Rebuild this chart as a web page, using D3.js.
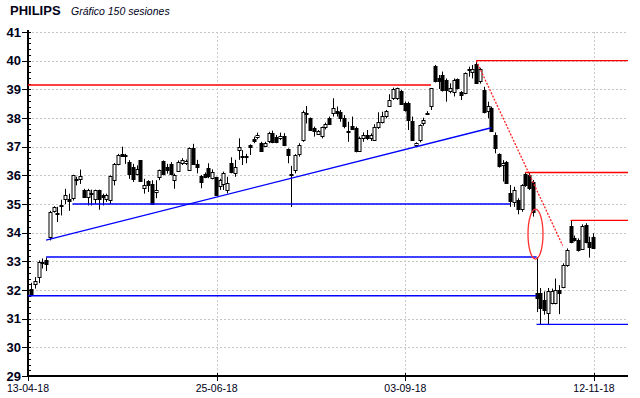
<!DOCTYPE html>
<html>
<head>
<meta charset="utf-8">
<script src="https://cdn.jsdelivr.net/npm/d3@7"></script>
<style>
  body { margin: 0; background: #fff; }
  svg { display: block; }
</style>
</head>
<body>
<div id="chart"></div>
<script>
// 150 sesiones, open / high / low / close
var opens = [32.05,32.2,32.45,32.95,33.05,33.85,34.76,34.68,34.95,35.15,35.18,35.19,35.85,35.88,35.5,35.25,35.4,35.2,35.48,35.3,
  35.15,35.15,35.83,36.38,36.73,36.68,36.47,36.3,36.06,36.52,35.56,35.8,35.7,35.4,35.92,36.5,36.29,36.4,35.83,36.17,
  36.45,36.42,36.19,36.97,36.4,35.98,36.05,36.24,35.92,35.93,35.63,35.7,35.47,36.42,36.07,36.86,36.66,36.62,37.06,37.27,
  37.35,37.14,37.03,37.17,37.49,37.33,37.29,37.37,36.91,35.98,36.19,36.74,37.23,38.16,37.99,37.64,37.44,37.35,37.67,37.99,
  38.16,38.24,38.2,37.99,37.56,37.73,37.66,36.85,37.31,37.4,37.31,37.23,37.7,37.87,38.08,38.43,38.71,38.69,38.94,38.51,
  38.51,37.9,37.04,37.23,37.81,38.15,38.4,39.81,39.38,39.5,39.33,38.92,38.92,39.36,38.92,38.86,39.68,39.6,39.9,39.29,
  38.98,38.24,38.34,37.41,36.73,36.34,36.48,35.37,35.08,35.14,34.83,36.04,36.01,35.78,31.9,31.9,31.66,31.2,31.55,31.54,
  32.0,32.12,32.87,34.24,33.8,33.74,33.45,34.27,33.69,33.86];
var highs = [32.25,32.45,33.03,33.1,33.13,34.76,34.92,34.9,35.15,35.53,35.36,36.02,35.95,36.2,35.53,35.53,35.5,35.5,35.5,35.36,
  35.36,36.0,36.43,36.75,37.0,36.75,36.53,36.4,36.35,36.52,35.88,35.83,35.83,35.83,36.2,36.52,36.4,36.46,36.06,36.52,
  36.6,36.55,36.97,37.1,36.54,36.01,36.1,36.42,36.21,35.95,35.88,36.13,35.95,36.63,36.54,37.29,36.88,36.75,37.08,37.35,
  37.49,37.17,37.17,37.52,37.56,37.41,37.49,37.47,36.94,36.33,36.74,37.12,38.26,38.42,38.02,37.7,37.58,37.7,37.84,38.05,
  38.69,38.4,38.28,38.1,37.87,38.05,37.7,37.35,37.5,37.58,37.46,37.78,38.2,38.22,38.28,38.83,39.06,39.06,38.98,38.57,
  38.57,38.05,37.15,37.78,38.01,38.24,39.03,39.85,39.5,39.62,39.38,39.21,39.38,39.38,38.94,39.59,39.79,39.85,40.0,39.75,
  39.09,38.57,38.4,37.5,36.77,36.53,36.5,35.66,35.6,35.2,35.69,36.1,36.08,35.84,33.15,32.07,31.95,32.07,32.05,32.4,
  32.17,32.93,33.45,34.43,33.9,33.8,34.29,34.33,33.86,33.98];
var lows = [31.78,32.05,32.24,32.75,32.66,33.73,34.7,34.37,34.6,35.0,34.76,35.12,35.65,35.7,35.22,34.95,34.95,35.0,34.8,34.95,
  35.07,35.0,35.65,36.35,36.64,36.4,35.88,35.77,36.0,35.77,35.36,35.42,34.99,35.2,35.83,36.0,36.06,36.0,35.53,36.12,
  36.36,36.36,36.16,36.4,36.07,35.55,35.9,35.9,35.86,35.31,35.49,35.49,35.37,36.07,35.95,36.54,36.36,36.42,36.71,37.12,
  37.26,36.83,37.0,37.12,37.12,37.12,37.23,37.02,36.42,34.9,36.07,36.65,37.17,37.81,37.56,37.35,37.41,37.29,37.6,37.76,
  38.05,38.05,37.87,37.64,37.17,37.58,36.8,36.83,37.17,37.23,37.2,37.2,37.62,37.81,37.99,38.4,38.63,38.63,38.46,38.22,
  37.58,37.2,37.0,37.15,37.73,38.13,38.28,39.24,39.01,38.92,38.57,38.86,38.75,39.0,38.63,38.83,39.44,39.38,39.2,39.2,
  38.16,37.99,37.52,36.77,36.27,35.78,35.72,34.9,34.9,34.64,34.73,35.6,35.49,34.56,31.23,30.81,31.14,30.81,31.5,31.5,
  31.16,32.06,32.81,33.63,33.69,33.34,33.43,33.63,33.13,33.43];
var closes = [31.85,32.3,32.98,32.98,32.9,34.72,34.9,34.66,34.98,35.3,35.12,36.0,35.88,35.99,35.25,35.48,35.35,35.5,35.15,35.22,
  35.3,35.97,36.4,36.7,36.66,36.72,36.06,35.88,36.23,35.8,35.65,35.65,35.0,35.48,36.17,36.06,36.17,36.06,36.0,36.47,
  36.54,36.5,36.94,36.42,36.28,35.78,35.95,35.95,36.13,35.31,35.84,36.09,35.72,36.09,36.28,36.98,36.65,36.66,37.0,37.2,
  37.41,36.86,37.14,37.46,37.17,37.17,37.37,37.06,36.71,36.03,36.71,37.06,38.22,38.12,37.58,37.55,37.56,37.67,37.79,37.79,
  38.34,38.16,37.99,37.7,37.55,37.64,36.85,37.29,37.41,37.31,37.41,37.7,37.87,38.08,38.24,38.63,39.01,39.04,38.48,38.28,
  37.93,37.23,37.12,37.75,37.92,38.17,39.03,39.27,39.29,38.98,38.98,39.03,39.33,39.04,38.83,39.56,39.7,39.71,39.22,39.71,
  38.22,38.43,37.55,36.97,36.3,36.42,35.76,35.08,35.49,34.83,35.66,35.66,35.55,34.73,31.72,31.38,31.31,31.98,31.98,32.0,
  31.88,32.87,33.39,33.69,33.74,33.39,34.24,33.69,33.51,33.48];

// eje x: sesion de cada fecha
var tickLabels = ["13-04-18", "25-06-18", "03-09-18", "12-11-18"];
var tickSessions = [0, 50, 100, 150];
var yTicks = [29, 30, 31, 32, 33, 34, 35, 36, 37, 38, 39, 40, 41];

// lineas dibujadas (sesion inicio/fin, precio); null = borde del grafico
var blueLines = [
  {i0: null, p0: 31.8, i1: 134, p1: 31.8},
  {i0: 4, p0: 33.15, i1: 134, p1: 33.15},
  {i0: 11, p0: 35.0, i1: 127, p1: 35.0},
  {i0: 134, p0: 30.8, i1: null, p1: 30.8},
  {i0: 4, p0: 33.74, i1: 122, p1: 37.66}
];
var redLines = [
  {i0: null, p0: 39.15, i1: 106, p1: 39.15},
  {i0: 118, p0: 40.0, i1: null, p1: 40.0},
  {i0: 131, p0: 36.1, i1: null, p1: 36.1},
  {i0: 143, p0: 34.43, i1: null, p1: 34.43}
];
var redDashed = [{i0: 118, p0: 40.0, i1: 140.9, p1: 33.55}];
var gapEllipse = {i: 133.7, p: 33.95, halfRange: 0.87};

function draw_chart(){
  var W = 640, H = 398;
  var mLeft = 28, mRight = 628, mTop = 32, mBottom = 376;
  var font = "Liberation Sans, Arial, sans-serif";

  var svg = d3.select("#chart").append("svg")
    .attr("width", W)
    .attr("height", H);

  var x = d3.scaleLinear().domain([0, 150]).range([mLeft, 594]);
  var cx = i => i === null ? mRight : x(i) + 3; // centro de la vela
  var y = d3.scaleLinear().domain([29, 41]).range([mBottom, mTop]);

  // titulo
  svg.append("text")
    .attr("x", 10).attr("y", 15)
    .attr("font-family", font)
    .attr("font-size", 13).attr("font-weight", "bold")
    .attr("fill", "#000018")
    .text("PHILIPS");
  svg.append("text")
    .attr("x", 71).attr("y", 15)
    .attr("font-family", font)
    .attr("font-size", 10.5).attr("font-style", "italic")
    .attr("fill", "#000018")
    .text("Gráfico 150 sesiones");

  // rejilla
  svg.append("g").selectAll("line").data(yTicks.filter(d => d > 29)).enter().append("line")
    .attr("x1", mLeft).attr("x2", mRight)
    .attr("y1", d => Math.round(y(d)) + 0.5).attr("y2", d => Math.round(y(d)) + 0.5)
    .attr("stroke", "#c6c6c6").attr("stroke-dasharray", "2,2");
  svg.append("g").selectAll("line").data(tickSessions.slice(1)).enter().append("line")
    .attr("x1", d => Math.round(x(d)) + 0.5).attr("x2", d => Math.round(x(d)) + 0.5)
    .attr("y1", mTop).attr("y2", mBottom)
    .attr("stroke", "#d4c8cc").attr("stroke-dasharray", "2,2");

  // eje y
  var yAxis = svg.append("g");
  yAxis.append("line")
    .attr("x1", mLeft).attr("x2", mLeft).attr("y1", mTop - 2).attr("y2", mBottom + 1)
    .attr("stroke", "#000").attr("stroke-width", 2);
  var minor = d3.range(29, 41.001, 0.2);
  yAxis.selectAll(".minor").data(minor).enter().append("line")
    .attr("class", "minor")
    .attr("x1", mLeft - 1).attr("x2", mLeft + 3)
    .attr("y1", d => Math.round(y(d)) + 0.5).attr("y2", d => Math.round(y(d)) + 0.5)
    .attr("stroke", "#000");
  yAxis.selectAll(".major").data(yTicks).enter().append("line")
    .attr("class", "major")
    .attr("x1", mLeft - 6).attr("x2", mLeft + 3)
    .attr("y1", d => Math.round(y(d)) + 0.5).attr("y2", d => Math.round(y(d)) + 0.5)
    .attr("stroke", "#000");
  yAxis.selectAll("text").data(yTicks).enter().append("text")
    .attr("x", 21).attr("y", d => y(d) + 4.5)
    .attr("text-anchor", "end")
    .attr("font-family", font)
    .attr("font-size", 13).attr("font-weight", "bold")
    .attr("fill", "#000018")
    .text(d => d);

  // eje x
  var xAxis = svg.append("g");
  xAxis.append("line")
    .attr("x1", mLeft - 1).attr("x2", mRight).attr("y1", mBottom).attr("y2", mBottom)
    .attr("stroke", "#000").attr("stroke-width", 2);
  xAxis.selectAll(".tick").data(tickSessions).enter().append("line")
    .attr("class", "tick")
    .attr("x1", d => Math.round(x(d)) + 0.5).attr("x2", d => Math.round(x(d)) + 0.5)
    .attr("y1", mBottom - 3).attr("y2", mBottom + 5)
    .attr("stroke", "#000");
  xAxis.selectAll("text").data(tickSessions).enter().append("text")
    .attr("x", d => x(d)).attr("y", 392)
    .attr("text-anchor", "middle")
    .attr("font-family", font)
    .attr("font-size", 10.5)
    .attr("fill", "#000018")
    .text((d, i) => tickLabels[i]);

  // velas
  var candles = opens.map((o, i) => ({i: i, o: o, h: highs[i], l: lows[i], c: closes[i]}));
  var cs = svg.append("g").selectAll("g").data(candles).enter().append("g");
  cs.append("line")
    .attr("x1", d => Math.round(cx(d.i)) + 0.5).attr("x2", d => Math.round(cx(d.i)) + 0.5)
    .attr("y1", d => y(d.h)).attr("y2", d => y(d.l))
    .attr("stroke", "#000");
  cs.append("rect")
    .attr("x", d => Math.round(cx(d.i)) - 1)
    .attr("y", d => Math.round(y(Math.max(d.o, d.c))) + 0.5)
    .attr("width", 3)
    .attr("height", d => Math.max(1, Math.round(Math.abs(y(d.o) - y(d.c)))))
    .attr("fill", d => d.c >= d.o ? "#fff" : "#000")
    .attr("stroke", "#000");

  // lineas del analisis
  var lg = svg.append("g");
  lg.selectAll(".blue").data(blueLines).enter().append("line")
    .attr("class", "blue")
    .attr("x1", d => d.i0 === null ? mLeft : cx(d.i0)).attr("x2", d => cx(d.i1))
    .attr("y1", d => y(d.p0)).attr("y2", d => y(d.p1))
    .attr("stroke", "#0000ff").attr("stroke-width", 1.4);
  lg.selectAll(".red").data(redLines).enter().append("line")
    .attr("class", "red")
    .attr("x1", d => d.i0 === null ? mLeft : cx(d.i0)).attr("x2", d => cx(d.i1))
    .attr("y1", d => y(d.p0)).attr("y2", d => y(d.p1))
    .attr("stroke", "#ff0000").attr("stroke-width", 1.4);
  lg.selectAll(".dash").data(redDashed).enter().append("line")
    .attr("class", "dash")
    .attr("x1", d => cx(d.i0)).attr("x2", d => cx(d.i1))
    .attr("y1", d => y(d.p0)).attr("y2", d => y(d.p1))
    .attr("stroke", "#ff2020").attr("stroke-width", 1.3)
    .attr("stroke-dasharray", "2,1.5");
  lg.append("ellipse")
    .attr("cx", cx(gapEllipse.i)).attr("cy", y(gapEllipse.p))
    .attr("rx", 7.5)
    .attr("ry", y(gapEllipse.p - gapEllipse.halfRange) - y(gapEllipse.p))
    .attr("fill", "none")
    .attr("stroke", "#ff3030").attr("stroke-width", 1.3);
}

draw_chart();
</script>
</body>
</html>
